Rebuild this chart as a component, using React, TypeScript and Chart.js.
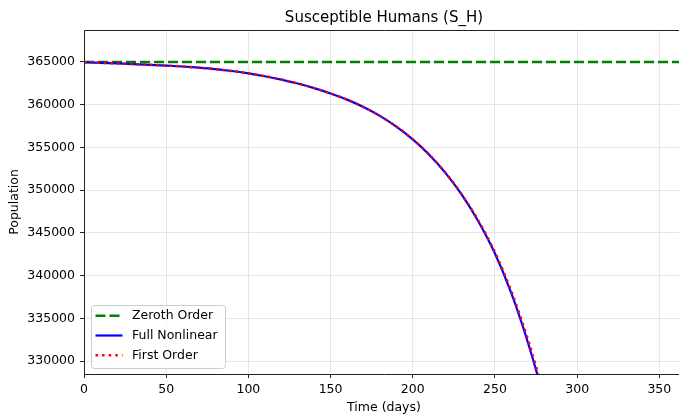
import React, { useEffect, useRef } from "react";
import { Chart, registerables } from "chart.js";

Chart.register(...registerables);

// ---- data ----
const days = [0, 10, 20, 30, 40, 50, 60, 70, 80, 90, 100, 110, 120, 130, 140, 150, 160, 170, 180, 190, 200, 210, 220, 230, 240, 250, 260, 270, 280];
const fullNonlinear = [364950, 364890, 364820, 364740, 364660, 364570, 364460, 364320, 364150, 363930, 363650, 363320, 362930, 362470, 361935, 361305, 360583, 359717, 358678, 357431, 355935, 354140, 351986, 349401, 346299, 342577, 337900, 332200, 325600];
const firstOrder = [364950, 364890, 364820, 364740, 364660, 364570, 364460, 364320, 364150, 363930, 363650, 363320, 362930, 362470, 361935, 361305, 360583, 359717, 358678, 357431, 355940, 354150, 352005, 349440, 346390, 342730, 338150, 332550, 326050];
const zerothDays = [0, 365];
const zerothOrder = [365000, 365000];

const xTicks = [0, 50, 100, 150, 200, 250, 300, 350];
const yTicks = [330000, 335000, 340000, 345000, 350000, 355000, 360000, 365000];
const xRange = [0, 365];
const yRange = [328480, 368730];

const titleText = "Susceptible Humans (S_H)";
const xLabel = "Time (days)";
const yLabel = "Population";
const seriesNames = ["Zeroth Order", "Full Nonlinear", "First Order"];

const FONT = "'DejaVu Sans', 'Liberation Sans', sans-serif";
const GREEN = "#008000";
const BLUE = "#0000ff";
const RED = "#ff0000";

const styles = [
  { color: GREEN, width: 2.5, dash: [10, 4] },
  { color: BLUE, width: 2.2, dash: [] as number[] },
  { color: RED, width: 2.5, dash: [2.5, 4.1] },
];

const decorPlugin = {
  id: "decor",
  afterDatasetsDraw(chart: any) {
    const ctx: CanvasRenderingContext2D = chart.ctx;
    const a = chart.chartArea;
    ctx.save();
    // spines
    ctx.strokeStyle = "#222";
    ctx.lineWidth = 1;
    ctx.setLineDash([]);
    ctx.beginPath();
    ctx.rect(Math.round(a.left) + 0.5, Math.round(a.top) + 0.5, Math.round(a.right) - Math.round(a.left), Math.round(a.bottom) - Math.round(a.top));
    ctx.stroke();

    // title
    const cx = (a.left + a.right) / 2;
    ctx.fillStyle = "#000";
    ctx.font = `15px ${FONT}`;
    ctx.textAlign = "center";
    ctx.textBaseline = "alphabetic";
    ctx.fillText(titleText, cx, 22);

    // axis labels
    ctx.font = `12.5px ${FONT}`;
    ctx.fillText(xLabel, cx, 411);
    ctx.save();
    ctx.translate(18, (a.top + a.bottom) / 2);
    ctx.rotate(-Math.PI / 2);
    ctx.fillText(yLabel, 0, 0);
    ctx.restore();

    // legend
    const bx = 91.5, by = 305.5, bw = 134, bh = 63;
    ctx.beginPath();
    if ((ctx as any).roundRect) (ctx as any).roundRect(bx, by, bw, bh, 3);
    else ctx.rect(bx, by, bw, bh);
    ctx.fillStyle = "rgba(255,255,255,0.8)";
    ctx.fill();
    ctx.strokeStyle = "#cccccc";
    ctx.lineWidth = 1;
    ctx.stroke();

    const rows = [315.7, 335.5, 355.3];
    seriesNames.forEach((name, i) => {
      const s = styles[i];
      ctx.beginPath();
      ctx.strokeStyle = s.color;
      ctx.lineWidth = s.width;
      ctx.lineCap = "butt";
      ctx.setLineDash(s.dash);
      ctx.moveTo(95.5, rows[i]);
      ctx.lineTo(122.5, rows[i]);
      ctx.stroke();
      ctx.setLineDash([]);
      ctx.fillStyle = "#000";
      ctx.textAlign = "left";
      ctx.textBaseline = "middle";
      ctx.font = `12.5px ${FONT}`;
      ctx.fillText(name, 132, rows[i] + 0.5);
    });
    ctx.restore();
  },
};

export default function App() {
  const ref = useRef<HTMLCanvasElement | null>(null);

  useEffect(() => {
    if (!ref.current) return;
    const toPts = (xs: number[], ys: number[]) => xs.map((x, i) => ({ x, y: ys[i] }));
    const chart = new Chart(ref.current, {
      type: "line",
      data: {
        datasets: [
          {
            label: seriesNames[0],
            data: toPts(zerothDays, zerothOrder),
            borderColor: styles[0].color,
            borderWidth: styles[0].width,
            borderDash: styles[0].dash,
            pointRadius: 0,
            order: 3,
          },
          {
            label: seriesNames[1],
            data: toPts(days, fullNonlinear),
            borderColor: styles[1].color,
            borderWidth: styles[1].width,
            pointRadius: 0,
            cubicInterpolationMode: "monotone",
            order: 2,
          },
          {
            label: seriesNames[2],
            data: toPts(days, firstOrder),
            borderColor: styles[2].color,
            borderWidth: styles[2].width,
            borderDash: styles[2].dash,
            borderCapStyle: "butt",
            pointRadius: 0,
            cubicInterpolationMode: "monotone",
            order: 1,
          },
        ],
      },
      options: {
        responsive: false,
        maintainAspectRatio: false,
        devicePixelRatio: 1,
        animation: false,
        layout: { padding: { top: 30, right: 16, left: 0, bottom: 0 } },
        plugins: {
          legend: { display: false },
          title: { display: false },
          tooltip: { enabled: false },
        },
        scales: {
          x: {
            type: "linear",
            min: xRange[0],
            max: xRange[1],
            afterBuildTicks: (s: any) => {
              s.ticks = xTicks.map((v) => ({ value: v }));
            },
            afterFit: (s: any) => {
              s.height = 43;
            },
            ticks: {
              autoSkip: false,
              maxRotation: 0,
              padding: 4,
              color: "#000",
              font: { family: FONT, size: 12.5 },
              callback: (v: any) => String(v),
            },
            grid: {
              color: "rgba(176,176,176,0.3)",
              lineWidth: 1,
              tickColor: "#222",
              tickLength: 4,
              drawTicks: true,
            },
            border: { display: false },
          },
          y: {
            type: "linear",
            min: yRange[0],
            max: yRange[1],
            afterBuildTicks: (s: any) => {
              s.ticks = yTicks.map((v) => ({ value: v }));
            },
            afterFit: (s: any) => {
              s.width = 84;
            },
            ticks: {
              autoSkip: false,
              padding: 5,
              color: "#000",
              font: { family: FONT, size: 12.5 },
              callback: (v: any) => String(v),
            },
            grid: {
              color: "rgba(176,176,176,0.3)",
              lineWidth: 1,
              tickColor: "#222",
              tickLength: 4,
              drawTicks: true,
            },
            border: { display: false },
          },
        },
      },
      plugins: [decorPlugin],
    } as any);
    return () => chart.destroy();
  }, []);

  return (
    <div
      style={{
        position: "fixed",
        left: 0,
        top: 0,
        width: 679,
        height: 417,
        overflow: "hidden",
        background: "#fff",
      }}
    >
      <canvas ref={ref} width={700} height={417} style={{ display: "block", width: 700, height: 417 }} />
    </div>
  );
}
